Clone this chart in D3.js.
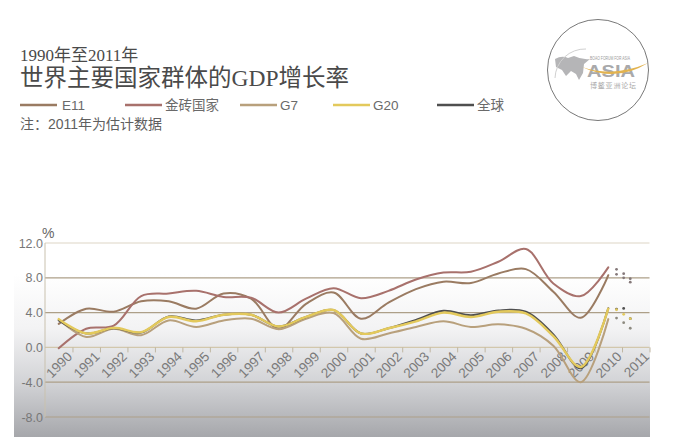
<!DOCTYPE html>
<html><head><meta charset="utf-8">
<script src="https://cdnjs.cloudflare.com/ajax/libs/d3/7.8.5/d3.min.js"></script>
<style>html,body{margin:0;padding:0;background:#fff}svg{display:block}
text{font-family:"Liberation Sans","Noto Sans CJK SC",sans-serif}</style>
</head><body><svg id="c" width="696" height="447"></svg>
<script>
const years = d3.range(1990, 2012);
const lineYears = d3.range(1990, 2011);
const forecastYears = [2010.3, 2010.56, 2010.8];
const yTicks = [12, 8, 4, 0, -4, -8];

const e11 = [2.7,4.45,4.1,5.3,5.3,4.45,6.2,5.6,2.15,5.0,6.3,3.3,5.15,6.7,7.55,7.4,8.5,9.0,6.4,3.4,8.3];
const bric = [-0.1,2.15,2.5,5.9,6.2,6.5,5.8,5.7,4.0,5.6,6.8,5.65,6.5,7.8,8.6,8.7,9.85,11.3,7.35,5.9,9.2];
const g7 = [3.2,1.2,2.15,1.4,3.1,2.35,3.1,3.3,2.1,3.3,3.95,1.0,1.6,2.35,3.0,2.35,2.65,2.15,0.2,-4.0,3.25];
const g20 = [3.25,1.6,2.25,1.75,3.5,3.0,3.75,3.75,2.4,3.5,4.3,1.6,2.2,3.0,4.0,3.5,4.1,3.9,1.3,-2.25,4.45];
const world = [3.1,1.6,2.2,1.7,3.55,3.1,3.75,3.75,2.4,3.5,4.3,1.6,2.2,3.15,4.2,3.7,4.25,4.1,1.5,-2.4,4.5];

const e11Dots = [8.4,8.0,7.5];
const bricDots = [8.97,8.47,7.9];
const g7Dots = [3.37,2.84,2.2];
const g20Dots = [4.33,3.8,3.3];
const worldDots = [4.4,4.48,3.3];

const names = ["E11","金砖国家","G7","G20","全球"];
const colors = ["#9a7b62","#a8716c","#b8a07c","#e3c95c","#4f4f4f"];
const lineData = [e11,bric,g7,g20,world];
const dotData = [e11Dots,bricDots,g7Dots,g20Dots,worldDots];
const drawOrder = [0,1,2,4,3];
const legendLineX = [20,125,240,333,437];

const svg = d3.select("#c");
const defs = svg.append("defs");
const grad = defs.append("linearGradient").attr("id","bg").attr("x1",0).attr("x2",0).attr("y1",0).attr("y2",1);
[[0,"#ffffff"],[0.25,"#ffffff"],[0.5,"#f3f3f4"],[0.75,"#d2d3d6"],[1,"#a6a7ab"]].forEach(s=>grad.append("stop").attr("offset",s[0]).attr("stop-color",s[1]));
svg.append("rect").attr("x",14).attr("y",220).attr("width",636).attr("height",217).attr("fill","url(#bg)");

const x = d3.scaleBand().domain(years).range([45,649.5]);
const xc = v => x(1990) + x.bandwidth()/2 + (v-1990)*x.step();
const y = d3.scaleLinear().domain([-8,12]).range([417,243]);

const grid = svg.append("g");
yTicks.forEach(t=>{
  grid.append("line").attr("x1",45).attr("x2",649.5).attr("y1",y(t)).attr("y2",y(t))
    .attr("stroke", t===12?"#ddd6c6":t===0?"#d2c7ac":"#ad9f88").attr("stroke-width",1.2);
});
grid.append("line").attr("x1",45).attr("x2",45).attr("y1",243).attr("y2",417).attr("stroke","#c9c1ae").attr("stroke-width",1);

const yAxis = d3.axisLeft(y).tickValues(yTicks).tickSize(0).tickPadding(2).tickFormat(d3.format(".1f"));
const gy = svg.append("g").attr("transform","translate(45,0)").call(yAxis);
gy.select(".domain").remove();
gy.selectAll("text").attr("font-size",12.5).attr("fill","#777").text(d=>d3.format(".1f")(d).replace("−","-"));
svg.append("text").attr("x",42).attr("y",238).attr("font-size",14).attr("fill","#666").text("%");

const xAxis = d3.axisBottom(d3.scaleLinear().domain([1990,2011]).range([x.step()+45,x.step()*22+45]))
  .tickValues(years).tickSize(5).tickFormat(d3.format("d"));
const gx = svg.append("g").attr("transform",`translate(0,${y(0)})`).call(xAxis);
gx.select(".domain").remove();
gx.selectAll("line").attr("stroke","#bfb6a2");
gx.selectAll("text").attr("font-size",13.5).attr("fill","#7a7a7a").attr("text-anchor","end")
  .attr("x",0).attr("y",0).attr("dy",0)
  .attr("transform","translate(0,10) rotate(-45)");

const line = d3.line().x((d,i)=>xc(lineYears[i])).y(d=>y(d)).curve(d3.curveCatmullRom.alpha(0.5));
drawOrder.forEach(k=>{
  svg.append("path").datum(lineData[k]).attr("d",line).attr("fill","none")
    .attr("stroke",colors[k]).attr("stroke-width",k===3?2.4:2).attr("stroke-linecap","round");
  svg.append("g").selectAll("circle").data(dotData[k]).join("circle")
    .attr("cx",(d,i)=>xc(forecastYears[i])).attr("cy",d=>y(d)).attr("r",1.4).attr("fill",k===2?"#8d8a80":k<2?"#85797a":colors[k]);
});

svg.append("text").attr("x",20).attr("y",61).attr("font-size",17).attr("fill","#4a4a4a")
  .style("font-family",'"Liberation Serif","Noto Sans CJK SC",serif').text("1990年至2011年");
svg.append("text").attr("x",20).attr("y",86).attr("font-size",23.5).attr("fill","#4a4a4a")
  .style("font-family",'"Liberation Serif","Noto Sans CJK SC",serif').text("世界主要国家群体的GDP增长率");

names.forEach((n,i)=>{
  svg.append("line").attr("x1",legendLineX[i]).attr("x2",legendLineX[i]+37).attr("y1",105).attr("y2",105)
    .attr("stroke",colors[i]).attr("stroke-width",2.5);
  svg.append("text").attr("x",legendLineX[i]+(i===0?42:40)).attr("y",110).attr("font-size",13.5).attr("fill","#6a6a6a").text(n);
});
svg.append("text").attr("x",20).attr("y",129).attr("font-size",14).attr("fill","#5f5f5f").text("注：2011年为估计数据");

const lg = svg.append("g").attr("transform","translate(598,70)");
lg.append("circle").attr("r",50.5).attr("fill","#fff").attr("stroke","#555").attr("stroke-width",0.8);
lg.append("path").attr("d","M-43,-11 Q-36,-15 -30,-12 L-24,-14 Q-16,-10 -8,-11 L-14,-6 L-15,3 L-19,10 L-22,4 L-27,1 L-32,6 L-36,0 L-42,-3 Z").attr("fill","#b5b5b7");
lg.append("path").attr("d","M-43,8 A30,30 0 0 1 -12,-21").attr("fill","none").attr("stroke","#d0d0d0").attr("stroke-width",1);
lg.append("text").attr("x",-11).attr("y",7).attr("font-size",17).attr("font-weight","bold").attr("fill","#a9a9ab").attr("textLength",48).attr("lengthAdjust","spacingAndGlyphs").text("ASIA");
lg.append("path").attr("d","M-16,-3 Q15,8 50,-7 Q18,13 -16,-3 Z").attr("fill","#e2b34f");
lg.append("text").attr("x",-8).attr("y",-10).attr("font-size",4.5).attr("fill","#999").attr("textLength",40).attr("lengthAdjust","spacingAndGlyphs").text("BOAO FORUM FOR ASIA");
lg.append("text").attr("x",-8).attr("y",18).attr("font-size",7).attr("fill","#aaa").attr("textLength",46).text("博鳌亚洲论坛");
</script></body></html>
